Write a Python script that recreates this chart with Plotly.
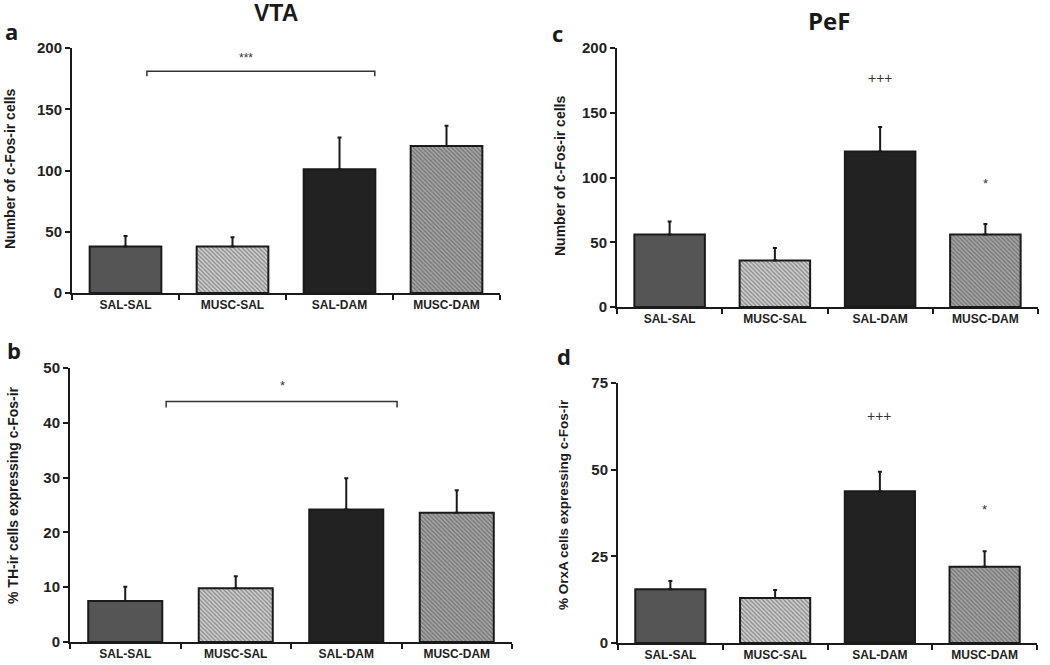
import plotly.graph_objects as go

W, H = 1050, 665

groups = ["SAL-SAL", "MUSC-SAL", "SAL-DAM", "MUSC-DAM"]

vta_cfos = [38, 38, 101, 120]
vta_cfos_err = [8.5, 7.5, 26, 16.5]

vta_th = [7.5, 9.8, 24.2, 23.6]
vta_th_err = [2.6, 2.2, 5.7, 4.1]

pef_cfos = [56, 36, 120, 56]
pef_cfos_err = [10, 9.5, 19, 8]

pef_orx = [15.5, 13, 43.8, 22]
pef_orx_err = [2.4, 2.3, 5.6, 4.5]

fill_colors = ["#555555", "#d0d0d0", "#222222", "#a6a6a6"]
pattern_shapes = ["", "\\", "", "\\"]
pattern_fg = ["#555555", "#909090", "#222222", "#606060"]

# panel geometry in pixels
panels = {
    "a": dict(x=(72, 500), y=(48, 293), ymax=200, dtick=50, vals=vta_cfos, err=vta_cfos_err),
    "b": dict(x=(70, 512), y=(368, 642), ymax=50, dtick=10, vals=vta_th, err=vta_th_err),
    "c": dict(x=(617, 1038), y=(48, 307), ymax=200, dtick=50, vals=pef_cfos, err=pef_cfos_err),
    "d": dict(x=(618, 1037), y=(383, 643), ymax=75, dtick=25, vals=pef_orx, err=pef_orx_err),
}

fig = go.Figure()
layout = {}
for i, (key, p) in enumerate(panels.items(), start=1):
    xa = "x" if i == 1 else f"x{i}"
    ya = "y" if i == 1 else f"y{i}"
    fig.add_trace(go.Bar(
        x=groups, y=p["vals"], xaxis=xa, yaxis=ya, width=0.67,
        marker=dict(color=fill_colors,
                    line=dict(color="#1a1a1a", width=2),
                    pattern=dict(shape=pattern_shapes, fgcolor=pattern_fg,
                                 bgcolor=fill_colors, size=3, solidity=0.45)),
        error_y=dict(type="data", array=p["err"], arrayminus=[0]*4, symmetric=False,
                     color="#1a1a1a", thickness=2, width=2),
        showlegend=False,
    ))
    xdom = [p["x"][0] / W, p["x"][1] / W]
    ydom = [1 - p["y"][1] / H, 1 - p["y"][0] / H]
    layout["xaxis" if i == 1 else f"xaxis{i}"] = dict(
        domain=xdom, anchor=ya, type="category", range=[-0.5, 3.5], automargin=False,
        tickson="boundaries", ticks="outside", ticklen=5, tickwidth=2, tickcolor="#1a1a1a",
        showline=True, linecolor="#1a1a1a", linewidth=2, showgrid=False, zeroline=False,
        tickfont=dict(family="Liberation Sans, Arial", size=12, color="#222", weight="bold"),
        fixedrange=True,
    )
    layout["yaxis" if i == 1 else f"yaxis{i}"] = dict(
        domain=ydom, anchor=xa, range=[0, p["ymax"]], dtick=p["dtick"], automargin=False,
        ticks="outside", ticklen=5, tickwidth=2, tickcolor="#1a1a1a",
        showline=True, linecolor="#1a1a1a", linewidth=2, showgrid=False, zeroline=False,
        tickfont=dict(family="Liberation Sans, Arial", size=15, color="#222", weight="bold"),
        fixedrange=True,
    )

fig.update_layout(**layout)

annos = []
def txt(x, y, s, size, family="Liberation Sans, Arial", angle=0):
    annos.append(dict(x=x / W, y=1 - y / H, xref="paper", yref="paper", text=s,
                      showarrow=False, textangle=angle, xanchor="center", yanchor="middle",
                      font=dict(family=family, size=size, color="#1a1a1a")))

txt(276, 13, "<b>VTA</b>", 23)
txt(829, 21, "<b>PeF</b>", 24, family="Open Sans")
txt(11, 31, "<b>a</b>", 22, family="Open Sans")
txt(14, 350, "<b>b</b>", 22, family="Open Sans")
txt(557, 33, "<b>c</b>", 22, family="Open Sans")
txt(564, 356, "<b>d</b>", 22, family="Open Sans")
txt(10, 169, "<b>Number of c-Fos-ir cells</b>", 14, angle=-90)
txt(13, 495, "<b>% TH-ir cells expressing c-Fos-ir</b>", 14, angle=-90)
txt(560, 176, "<b>Number of c-Fos-ir cells</b>", 14, angle=-90)
txt(563, 505, "<b>% OrxA cells expressing c-Fos-ir</b>", 13.5, angle=-90)

# significance markers in data coordinates
def data_txt(xa, ya, x, y, s, size=13):
    annos.append(dict(x=x, y=y, xref=xa, yref=ya, text=s, showarrow=False,
                      xanchor="center", yanchor="middle",
                      font=dict(family="Liberation Sans, Arial", size=size, color="#333333")))

data_txt("x", "y", 1.13, 192, "***", 12)
data_txt("x2", "y2", 1.42, 46.8, "*", 13)
data_txt("x3", "y3", 2.0, 177, "+++", 14)
data_txt("x3", "y3", 3.0, 95, "*", 13)
data_txt("x4", "y4", 2.0, 65.5, "+++", 14)
data_txt("x4", "y4", 3.0, 38.5, "*", 13)

fig.update_layout(annotations=annos)

# brackets
def bracket(xa, ya, x0, x1, y, drop):
    fig.add_shape(type="path", xref=xa, yref=ya,
                  path=f"M {x0} {y-drop} L {x0} {y} L {x1} {y} L {x1} {y-drop}",
                  line=dict(color="#333", width=1.5))

bracket("x", "y", 0.2, 2.33, 181, 4)
bracket("x2", "y2", 0.37, 2.46, 43.9, 1.1)

fig.update_layout(width=W, height=H, margin=dict(l=0, r=0, t=0, b=0),
                  paper_bgcolor="white", plot_bgcolor="white", bargap=0.33)

fig.write_html("out.html", config={"displayModeBar": False},
               post_script="document.body.style.margin='0';document.body.style.overflow='hidden';")
